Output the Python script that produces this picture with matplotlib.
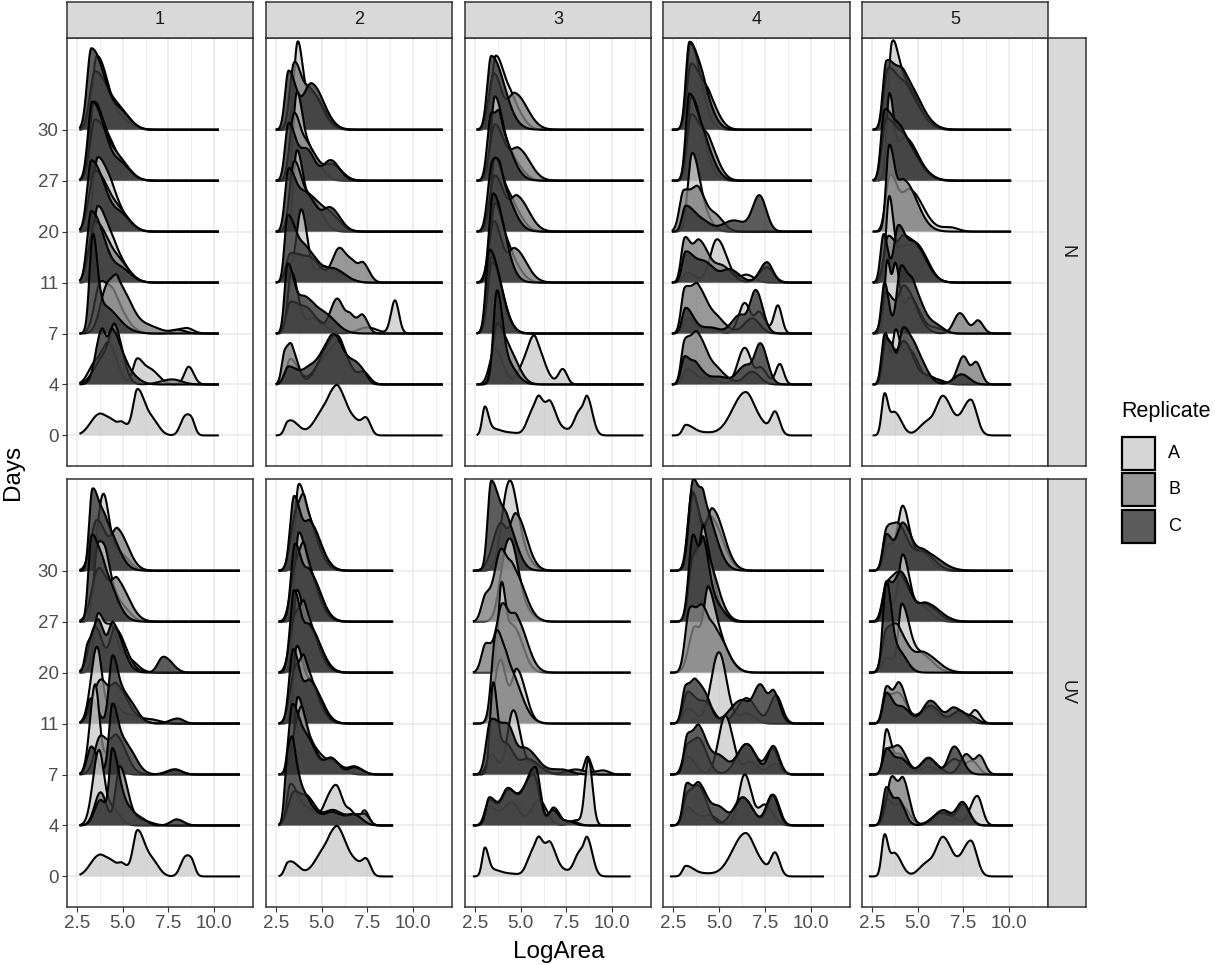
import matplotlib
matplotlib.use("Agg")
import matplotlib.pyplot as plt
from matplotlib.patches import Rectangle
import numpy as np

plt.rcParams["font.family"] = ["Liberation Sans", "DejaVu Sans"]

DAYS = [0, 4, 7, 11, 20, 27, 30]
GROUPS = [1, 2, 3, 4, 5]
TREATMENTS = ["N", "UV"]
REPLICATES = ["A", "B", "C"]
FILLS = {"A": "#cccccc", "B": "#7f7f7f", "C": "#333333"}
X_TICKS = [2.5, 5.0, 7.5, 10.0]
BANDWIDTH = 0.12

# LogArea range covered by each panel (N row, UV row)
RANGE_N = [(2.65, 10.25), (2.5, 11.6), (2.6, 11.7), (2.45, 10.05), (2.55, 10.1)]
RANGE_UV = [(2.65, 11.4), (2.65, 8.9), (2.4, 11.0), (2.35, 10.7), (2.35, 10.2)]

# density bumps: (centre, height, left spread, right spread)
DAY0 = [
    [(3.7, 0.4, 0.45, 0.35), (4.4, 0.25, 0.3, 0.3), (5.0, 0.22, 0.2, 0.3), (5.8, 0.85, 0.2, 0.35),
     (6.6, 0.3, 0.4, 0.35), (8.35, 0.3, 0.2, 0.2), (8.75, 0.3, 0.2, 0.15)],
    [(3.15, 0.22, 0.12, 0.3), (3.6, 0.15, 0.3, 0.3), (5.35, 0.6, 0.6, 0.3), (5.95, 0.85, 0.3, 0.45),
     (6.9, 0.2, 0.3, 0.3), (7.45, 0.3, 0.2, 0.2)],
    [(3.05, 0.52, 0.08, 0.15), (3.5, 0.12, 0.3, 0.4), (4.5, 0.05, 0.5, 0.5), (5.6, 0.4, 0.25, 0.3),
     (6.05, 0.6, 0.2, 0.3), (6.65, 0.55, 0.2, 0.3), (7.4, 0.1, 0.3, 0.3), (8.2, 0.45, 0.25, 0.2),
     (8.65, 0.7, 0.15, 0.25)],
    [(3.2, 0.2, 0.12, 0.4), (4.2, 0.05, 0.5, 0.5), (6.45, 0.85, 0.7, 0.5), (7.4, 0.12, 0.3, 0.3),
     (8.05, 0.45, 0.2, 0.22)],
    [(3.2, 0.8, 0.1, 0.15), (3.75, 0.45, 0.2, 0.35), (5.5, 0.25, 0.4, 0.4), (6.4, 0.75, 0.35, 0.45),
     (7.9, 0.7, 0.45, 0.3)],
]

N1 = {
    30: ([(3.6, 1.45, 0.22, 0.6), (5.0, 0.15, 0.4, 0.5)], [(3.5, 1.15, 0.25, 0.8), (5.0, 0.2, 0.4, 0.5)],
         [(3.3, 1.6, 0.2, 0.75), (5.0, 0.25, 0.4, 0.5)]),
    27: ([(3.45, 1.55, 0.2, 0.6), (4.5, 0.3, 0.3, 0.5), (5.1, 0.12, 0.4, 0.5)],
         [(3.5, 1.2, 0.25, 0.8), (5.0, 0.2, 0.4, 0.5)], [(3.35, 1.55, 0.2, 0.7), (5.0, 0.25, 0.4, 0.5)]),
    20: ([(3.65, 1.45, 0.22, 0.6), (4.5, 0.3, 0.3, 0.5), (5.1, 0.12, 0.4, 0.5)],
         [(3.5, 1.2, 0.3, 0.8), (5.0, 0.2, 0.4, 0.5)], [(3.3, 1.4, 0.2, 0.75), (5.0, 0.25, 0.4, 0.5)]),
    11: ([(3.65, 1.5, 0.22, 0.6), (4.6, 0.3, 0.3, 0.5), (5.2, 0.12, 0.4, 0.5)],
         [(3.5, 1.2, 0.3, 0.8), (5.0, 0.2, 0.4, 0.5)], [(3.3, 1.4, 0.2, 0.7), (5.0, 0.22, 0.4, 0.5)]),
    7: ([(3.8, 1.0, 0.3, 0.5), (4.6, 0.5, 0.3, 0.6), (8.1, 0.08, 0.3, 0.3), (8.6, 0.08, 0.2, 0.3)],
        [(4.15, 0.9, 0.35, 0.3), (4.75, 0.95, 0.25, 0.7), (6.5, 0.12, 0.5, 0.6), (8.0, 0.07, 0.3, 0.4)],
        [(3.37, 1.75, 0.13, 0.2), (3.9, 0.55, 0.35, 0.8)]),
    4: ([(3.5, 0.4, 0.35, 0.5), (4.3, 0.7, 0.35, 0.4), (5.8, 0.5, 0.2, 0.35), (6.6, 0.25, 0.3, 0.4),
         (8.6, 0.35, 0.2, 0.25)],
        [(4.0, 0.55, 0.5, 0.5), (4.6, 0.9, 0.25, 0.4), (7.7, 0.1, 0.6, 0.5)],
        [(3.86, 1.05, 0.3, 0.2), (4.45, 1.05, 0.2, 0.45), (5.3, 0.2, 0.3, 0.5)]),
}

N2 = {
    30: ([(3.7, 1.7, 0.17, 0.25), (4.5, 0.7, 0.3, 0.6)], [(3.5, 1.25, 0.2, 0.35), (4.4, 0.75, 0.4, 0.6)],
         [(3.2, 1.15, 0.15, 0.4), (4.45, 0.9, 0.4, 0.65)]),
    27: ([(3.65, 1.7, 0.15, 0.3), (4.4, 0.55, 0.3, 0.5)],
         [(3.5, 1.3, 0.2, 0.35), (4.3, 0.6, 0.3, 0.5), (5.6, 0.3, 0.4, 0.5)],
         [(3.2, 1.1, 0.15, 0.35), (4.2, 0.6, 0.4, 0.4), (5.5, 0.4, 0.4, 0.45)]),
    20: ([(3.65, 1.55, 0.15, 0.3), (4.5, 0.6, 0.35, 0.5)],
         [(3.5, 1.35, 0.2, 0.4), (4.5, 0.6, 0.4, 0.5), (5.5, 0.3, 0.4, 0.5)],
         [(3.2, 1.2, 0.15, 0.4), (4.2, 0.7, 0.4, 0.5), (5.5, 0.45, 0.4, 0.5)]),
    11: ([(3.2, 0.3, 0.2, 0.3), (3.9, 1.4, 0.22, 0.3), (5.1, 0.3, 0.4, 0.4), (6.0, 0.15, 0.4, 0.5)],
         [(3.3, 0.55, 0.2, 0.6), (4.5, 0.4, 0.5, 0.5), (5.95, 0.65, 0.35, 0.35), (6.7, 0.35, 0.3, 0.3),
          (7.3, 0.33, 0.2, 0.3)],
         [(3.15, 1.3, 0.12, 0.45), (4.2, 0.6, 0.4, 0.6), (5.7, 0.25, 0.5, 0.6)]),
    7: ([(3.35, 1.2, 0.15, 0.35), (4.6, 0.3, 0.4, 0.5), (7.5, 0.12, 0.5, 0.5), (9.0, 0.65, 0.18, 0.18)],
        [(3.3, 0.6, 0.2, 0.5), (4.3, 0.4, 0.4, 0.5), (5.85, 0.68, 0.35, 0.35), (6.6, 0.3, 0.2, 0.3),
         (7.25, 0.33, 0.2, 0.25)],
        [(3.15, 1.35, 0.12, 0.35), (4.1, 0.65, 0.35, 0.5), (5.2, 0.35, 0.5, 0.6)]),
    4: ([(3.3, 0.5, 0.2, 0.4), (5.3, 0.55, 0.6, 0.4), (6.0, 0.7, 0.3, 0.5), (7.3, 0.2, 0.3, 0.3)],
        [(3.0, 0.62, 0.12, 0.2), (3.4, 0.62, 0.15, 0.3), (5.5, 0.8, 0.6, 0.4), (6.1, 0.55, 0.3, 0.5),
         (7.3, 0.22, 0.25, 0.3)],
        [(3.2, 0.35, 0.2, 0.5), (4.4, 0.3, 0.4, 0.5), (5.4, 0.7, 0.45, 0.3), (5.95, 0.7, 0.3, 0.5),
         (6.9, 0.3, 0.3, 0.3), (7.35, 0.12, 0.2, 0.2)]),
}

N3 = {
    30: ([(3.65, 1.45, 0.2, 0.5), (4.6, 0.4, 0.3, 0.5)], [(3.55, 1.1, 0.25, 0.4), (4.7, 0.7, 0.35, 0.65)],
         [(3.4, 1.45, 0.18, 0.7)]),
    27: ([(3.6, 1.65, 0.17, 0.45), (4.6, 0.35, 0.3, 0.5)], [(3.6, 1.1, 0.25, 0.5), (4.9, 0.6, 0.4, 0.6)],
         [(3.4, 1.3, 0.17, 0.3), (3.9, 0.9, 0.15, 0.6)]),
    20: ([(3.6, 1.45, 0.17, 0.5), (4.6, 0.4, 0.3, 0.5)], [(3.6, 1.1, 0.25, 0.5), (4.85, 0.65, 0.35, 0.6)],
         [(3.45, 1.3, 0.2, 0.3), (3.95, 0.85, 0.2, 0.6)]),
    11: ([(3.6, 1.55, 0.2, 0.45), (4.5, 0.4, 0.3, 0.5)], [(3.55, 1.2, 0.25, 0.4), (4.7, 0.65, 0.35, 0.6)],
         [(3.5, 1.75, 0.18, 0.6)]),
    7: ([(3.4, 1.5, 0.2, 0.5)], [(3.45, 1.4, 0.2, 0.55)], [(3.3, 1.65, 0.15, 0.6)]),
    4: ([(3.6, 0.7, 0.25, 0.4), (5.4, 0.55, 0.4, 0.3), (5.85, 0.7, 0.25, 0.45), (7.3, 0.3, 0.2, 0.2)],
        [(3.7, 1.1, 0.2, 0.3), (4.35, 0.65, 0.3, 0.5)],
        [(3.7, 1.7, 0.15, 0.25), (4.2, 0.45, 0.3, 0.5)]),
}

N4 = {
    30: ([(3.45, 1.7, 0.15, 0.55)], [(3.5, 1.3, 0.2, 0.6), (4.5, 0.4, 0.3, 0.5)],
         [(3.4, 1.7, 0.15, 0.5), (4.2, 0.5, 0.3, 0.5)]),
    27: ([(3.5, 1.65, 0.15, 0.6)], [(3.5, 1.3, 0.2, 0.6), (4.5, 0.5, 0.3, 0.5)],
         [(3.4, 1.7, 0.15, 0.5), (4.3, 0.5, 0.3, 0.5)]),
    20: ([(3.55, 1.5, 0.2, 0.35), (4.2, 0.3, 0.3, 0.4)],
         [(3.1, 0.8, 0.2, 0.5), (3.95, 0.65, 0.3, 0.45), (4.9, 0.25, 0.3, 0.4)],
         [(3.2, 0.5, 0.15, 0.5), (4.2, 0.15, 0.4, 0.4), (5.8, 0.22, 0.6, 0.6), (7.2, 0.7, 0.35, 0.35)]),
    11: ([(3.3, 0.2, 0.2, 0.4), (4.9, 0.85, 0.35, 0.5), (6.5, 0.15, 0.3, 0.4)],
         [(3.15, 0.85, 0.15, 0.3), (3.95, 0.8, 0.3, 0.5), (5.2, 0.3, 0.4, 0.5), (7.6, 0.3, 0.4, 0.35)],
         [(3.2, 0.6, 0.15, 0.5), (4.3, 0.35, 0.4, 0.5), (5.6, 0.25, 0.4, 0.5), (7.6, 0.4, 0.35, 0.3)]),
    7: ([(3.3, 0.3, 0.2, 0.4), (4.5, 0.1, 0.4, 0.4), (6.4, 0.6, 0.3, 0.3), (7.2, 0.4, 0.2, 0.3),
         (8.2, 0.55, 0.18, 0.18)],
        [(3.15, 0.85, 0.15, 0.35), (3.9, 0.85, 0.3, 0.55), (5.0, 0.2, 0.3, 0.5), (6.8, 0.3, 0.4, 0.4)],
        [(3.2, 0.5, 0.15, 0.4), (4.5, 0.12, 0.5, 0.5), (6.1, 0.35, 0.4, 0.3), (7.0, 0.85, 0.3, 0.35)]),
    4: ([(3.3, 0.3, 0.2, 0.4), (4.5, 0.12, 0.4, 0.4), (6.4, 0.72, 0.35, 0.35), (7.3, 0.3, 0.2, 0.3),
         (8.3, 0.4, 0.18, 0.18)],
        [(3.15, 0.8, 0.15, 0.3), (3.85, 0.95, 0.3, 0.55), (5.0, 0.2, 0.3, 0.5), (6.8, 0.25, 0.4, 0.4)],
        [(3.15, 0.55, 0.15, 0.35), (3.8, 0.3, 0.2, 0.4), (5.0, 0.15, 0.5, 0.5), (6.4, 0.35, 0.4, 0.3),
         (7.25, 0.8, 0.3, 0.35)]),
}

N5 = {
    30: ([(3.6, 1.5, 0.12, 0.3), (4.3, 0.9, 0.4, 0.7)], [(3.4, 1.2, 0.2, 0.6), (4.5, 0.6, 0.4, 0.7)],
         [(3.3, 1.3, 0.15, 0.5), (4.3, 0.95, 0.4, 0.8)]),
    27: ([(3.46, 1.6, 0.1, 0.2), (4.3, 0.85, 0.4, 0.7)], [(3.3, 1.2, 0.2, 0.6), (4.4, 0.6, 0.4, 0.7)],
         [(3.2, 1.35, 0.15, 0.5), (4.2, 0.8, 0.4, 0.8)]),
    20: ([(3.5, 1.1, 0.2, 0.4), (4.6, 0.8, 0.4, 0.7), (6.8, 0.08, 0.5, 0.4)],
         [(3.45, 1.6, 0.12, 0.25), (4.25, 1.0, 0.35, 0.7)], None),
    11: ([(3.45, 1.65, 0.12, 0.2), (4.2, 0.7, 0.3, 0.5), (5.0, 0.5, 0.3, 0.6)],
         [(3.4, 0.9, 0.2, 0.4), (4.3, 0.8, 0.3, 0.5), (5.2, 0.5, 0.4, 0.5)],
         [(3.15, 0.95, 0.12, 0.2), (3.95, 1.1, 0.2, 0.4), (4.9, 0.7, 0.35, 0.6)]),
    7: ([(3.35, 1.4, 0.1, 0.13), (3.8, 1.3, 0.12, 0.2), (4.6, 0.7, 0.3, 0.5), (6.0, 0.1, 0.4, 0.4)],
        [(3.3, 0.8, 0.2, 0.4), (4.3, 0.9, 0.3, 0.6), (7.3, 0.4, 0.3, 0.35), (8.3, 0.25, 0.2, 0.25)],
        [(3.2, 1.0, 0.12, 0.2), (4.1, 1.3, 0.2, 0.35), (4.8, 0.8, 0.25, 0.5), (6.0, 0.15, 0.4, 0.4)]),
    4: ([(3.25, 1.0, 0.1, 0.15), (3.8, 1.0, 0.12, 0.2), (4.5, 0.7, 0.3, 0.5), (6.0, 0.1, 0.4, 0.4)],
        [(3.3, 0.9, 0.15, 0.4), (4.3, 0.8, 0.3, 0.5), (5.6, 0.15, 0.3, 0.5), (7.5, 0.55, 0.3, 0.25),
         (8.2, 0.42, 0.2, 0.25)],
        [(3.2, 0.95, 0.12, 0.15), (3.6, 0.65, 0.12, 0.15), (4.2, 1.05, 0.2, 0.35), (4.9, 0.6, 0.3, 0.5),
         (7.4, 0.2, 0.4, 0.4)]),
}

UV1 = {
    30: ([(3.95, 1.5, 0.28, 0.3), (4.8, 0.35, 0.3, 0.5)],
         [(3.6, 1.0, 0.3, 0.5), (4.75, 0.75, 0.3, 0.55)],
         [(3.35, 1.55, 0.12, 0.35), (4.1, 0.85, 0.3, 0.6)]),
    27: ([(3.65, 1.45, 0.18, 0.3), (4.15, 0.85, 0.2, 0.3), (4.8, 0.35, 0.3, 0.5)],
         [(3.7, 1.05, 0.35, 0.5), (4.75, 0.72, 0.3, 0.6)],
         [(3.3, 1.6, 0.12, 0.35), (4.0, 0.9, 0.3, 0.6)]),
    20: ([(3.65, 1.1, 0.2, 0.3), (4.4, 0.85, 0.3, 0.3), (5.2, 0.3, 0.3, 0.5)],
         [(3.5, 0.9, 0.3, 0.4), (4.6, 0.85, 0.25, 0.55)],
         [(3.1, 0.5, 0.1, 0.3), (3.7, 0.95, 0.25, 0.35), (4.5, 0.9, 0.2, 0.5), (7.2, 0.3, 0.25, 0.3),
          (7.7, 0.1, 0.2, 0.3)]),
    11: ([(3.6, 1.5, 0.3, 0.25), (4.5, 0.4, 0.3, 0.4), (5.5, 0.15, 0.3, 0.5)],
         [(3.8, 0.85, 0.4, 0.4), (4.7, 0.7, 0.3, 0.6), (6.5, 0.08, 0.5, 0.5)],
         [(3.3, 0.5, 0.2, 0.3), (4.45, 1.3, 0.15, 0.3), (5.2, 0.5, 0.3, 0.5), (8.0, 0.1, 0.4, 0.3)]),
    7: ([(3.5, 1.75, 0.25, 0.2), (4.3, 0.45, 0.3, 0.4)],
        [(3.8, 0.75, 0.3, 0.4), (4.7, 0.7, 0.3, 0.5), (7.8, 0.1, 0.4, 0.4)],
        [(3.3, 0.55, 0.2, 0.3), (4.45, 1.35, 0.15, 0.3), (5.2, 0.55, 0.3, 0.5), (7.9, 0.1, 0.4, 0.3)]),
    4: ([(3.7, 1.45, 0.3, 0.25), (4.4, 0.35, 0.3, 0.4)],
        [(3.8, 0.65, 0.3, 0.3), (4.85, 1.15, 0.2, 0.4), (6.0, 0.1, 0.4, 0.5)],
        [(3.8, 0.5, 0.3, 0.3), (4.45, 1.4, 0.12, 0.3), (5.1, 0.4, 0.3, 0.5), (6.1, 0.08, 0.3, 0.3),
         (7.95, 0.12, 0.3, 0.35)]),
}

UV2 = {
    30: ([(3.75, 1.65, 0.15, 0.35), (4.5, 0.7, 0.3, 0.55)], [(3.6, 1.1, 0.25, 0.3), (4.1, 1.1, 0.2, 0.6)],
         [(3.5, 1.45, 0.18, 0.35), (4.4, 0.9, 0.3, 0.55)]),
    27: ([(3.75, 1.7, 0.15, 0.35), (4.5, 0.7, 0.3, 0.55)], [(3.6, 1.1, 0.25, 0.3), (4.1, 1.15, 0.2, 0.6)],
         [(3.55, 1.5, 0.18, 0.35), (4.4, 0.9, 0.3, 0.55)]),
    20: ([(3.65, 1.6, 0.15, 0.35), (4.5, 0.7, 0.3, 0.55)], [(3.55, 1.1, 0.25, 0.3), (4.1, 1.1, 0.2, 0.6)],
         [(3.5, 1.6, 0.18, 0.35), (4.4, 0.85, 0.3, 0.55)]),
    11: ([(3.65, 1.5, 0.15, 0.35), (4.5, 0.7, 0.3, 0.55)], [(3.55, 1.05, 0.25, 0.3), (4.1, 1.05, 0.2, 0.6)],
         [(3.45, 1.45, 0.18, 0.35), (4.4, 0.8, 0.3, 0.55)]),
    7: ([(3.7, 1.5, 0.15, 0.35), (4.5, 0.5, 0.3, 0.5), (5.6, 0.2, 0.4, 0.5)],
        [(3.6, 0.8, 0.25, 0.3), (4.0, 0.9, 0.2, 0.5), (5.5, 0.3, 0.4, 0.5), (6.8, 0.15, 0.3, 0.4)],
        [(3.4, 1.35, 0.15, 0.4), (4.3, 0.6, 0.35, 0.5), (5.55, 0.3, 0.3, 0.4), (6.8, 0.14, 0.3, 0.4)]),
    4: ([(3.3, 0.8, 0.15, 0.4), (4.3, 0.3, 0.4, 0.4), (5.4, 0.5, 0.3, 0.3), (5.9, 0.6, 0.25, 0.3),
         (6.6, 0.25, 0.2, 0.3), (7.35, 0.28, 0.15, 0.2)],
        [(3.5, 0.65, 0.3, 0.4), (4.3, 0.45, 0.3, 0.4), (5.6, 0.3, 0.5, 0.5), (6.8, 0.2, 0.4, 0.4),
         (7.4, 0.15, 0.2, 0.2)],
        [(3.15, 1.3, 0.1, 0.25), (3.5, 1.0, 0.15, 0.4), (4.3, 0.35, 0.3, 0.5), (5.6, 0.25, 0.4, 0.5),
         (6.8, 0.2, 0.4, 0.4)]),
}

UV3 = {
    30: ([(4.2, 1.15, 0.3, 0.3), (4.65, 1.1, 0.3, 0.35), (5.3, 0.2, 0.3, 0.4)],
         [(3.9, 0.9, 0.4, 0.3), (4.75, 1.1, 0.3, 0.55)],
         [(3.4, 1.75, 0.15, 0.45), (4.3, 0.8, 0.3, 0.5)]),
    27: ([(4.15, 1.1, 0.3, 0.3), (4.65, 1.1, 0.3, 0.35), (5.4, 0.15, 0.3, 0.4)],
         [(3.1, 0.5, 0.2, 0.3), (3.9, 1.3, 0.3, 0.3), (4.6, 1.0, 0.3, 0.6)], None),
    20: ([(3.95, 1.65, 0.12, 0.2), (4.6, 0.9, 0.3, 0.5)],
         [(3.1, 0.55, 0.2, 0.3), (4.0, 1.3, 0.3, 0.35), (4.8, 1.0, 0.3, 0.55)], None),
    11: ([(3.9, 1.25, 0.3, 0.3), (4.8, 1.05, 0.25, 0.45)],
         [(3.65, 1.65, 0.2, 0.3), (4.3, 1.1, 0.3, 0.65)], None),
    7: ([(3.4, 0.4, 0.2, 0.3), (4.6, 1.25, 0.3, 0.35), (5.6, 0.2, 0.4, 0.5), (8.65, 0.35, 0.12, 0.15)],
        [(3.5, 1.75, 0.12, 0.2), (4.2, 0.6, 0.3, 0.4), (5.4, 0.3, 0.4, 0.6), (8.0, 0.1, 0.5, 0.5),
         (9.5, 0.08, 0.4, 0.3)],
        [(3.35, 0.95, 0.2, 0.4), (4.3, 0.9, 0.45, 0.35), (5.3, 0.5, 0.4, 0.6), (7.2, 0.1, 0.6, 0.5)]),
    4: ([(3.3, 0.35, 0.2, 0.4), (4.5, 0.45, 0.4, 0.4), (6.0, 0.5, 0.4, 0.4), (8.0, 0.1, 0.3, 0.3),
         (8.7, 1.3, 0.15, 0.18)],
        [(3.3, 0.5, 0.2, 0.4), (4.3, 0.6, 0.3, 0.4), (5.7, 1.0, 0.6, 0.3), (6.8, 0.35, 0.2, 0.3),
         (7.8, 0.08, 0.3, 0.3)],
        [(3.3, 0.55, 0.15, 0.4), (4.3, 0.65, 0.3, 0.4), (5.8, 1.15, 0.6, 0.25), (6.75, 0.3, 0.2, 0.3),
         (7.6, 0.08, 0.3, 0.3)]),
}

UV4 = {
    30: ([(3.55, 1.55, 0.2, 0.4), (4.6, 1.0, 0.3, 0.6)], [(3.6, 1.5, 0.2, 0.35), (4.65, 1.2, 0.3, 0.6)],
         [(3.6, 1.75, 0.2, 0.3), (4.2, 1.2, 0.2, 0.6)]),
    27: ([(3.6, 1.3, 0.2, 0.4), (4.2, 1.4, 0.15, 0.5)], [(3.6, 1.2, 0.2, 0.4), (4.3, 1.2, 0.3, 0.6)],
         [(3.6, 1.7, 0.2, 0.3), (4.2, 1.3, 0.15, 0.3), (4.9, 0.3, 0.3, 0.4)]),
    20: ([(3.7, 0.9, 0.3, 0.4), (4.45, 1.5, 0.2, 0.45), (5.3, 0.3, 0.3, 0.5)],
         [(3.4, 1.15, 0.2, 0.3), (4.1, 1.15, 0.3, 0.3), (4.8, 0.8, 0.3, 0.6)], None),
    11: ([(3.3, 0.3, 0.2, 0.4), (5.0, 1.4, 0.4, 0.4), (6.5, 0.2, 0.4, 0.4)],
         [(3.3, 0.6, 0.2, 0.4), (4.3, 0.4, 0.4, 0.4), (6.5, 0.5, 0.5, 0.5), (8.1, 0.55, 0.3, 0.3)],
         [(3.2, 0.72, 0.15, 0.3), (3.75, 0.6, 0.2, 0.3), (4.3, 0.45, 0.3, 0.3), (6.2, 0.45, 0.6, 0.4),
          (7.25, 0.75, 0.35, 0.35), (8.0, 0.55, 0.2, 0.3)]),
    7: ([(3.3, 0.35, 0.2, 0.4), (5.35, 1.15, 0.35, 0.4), (6.7, 0.25, 0.3, 0.4), (8.0, 0.2, 0.3, 0.3)],
        [(3.3, 0.55, 0.2, 0.4), (4.0, 0.55, 0.3, 0.4), (6.5, 0.6, 0.5, 0.5), (7.9, 0.5, 0.3, 0.3)],
        [(3.3, 0.75, 0.15, 0.3), (3.95, 0.85, 0.25, 0.4), (5.0, 0.35, 0.4, 0.4), (6.5, 0.6, 0.5, 0.5),
         (7.95, 0.55, 0.25, 0.3)]),
    4: ([(3.3, 0.35, 0.2, 0.4), (4.5, 0.2, 0.4, 0.4), (6.4, 1.0, 0.3, 0.35), (7.5, 0.4, 0.3, 0.4)],
        [(3.3, 0.6, 0.2, 0.4), (4.0, 0.6, 0.3, 0.4), (6.3, 0.55, 0.5, 0.5), (7.95, 0.6, 0.3, 0.3)],
        [(3.25, 0.8, 0.15, 0.3), (3.95, 0.75, 0.25, 0.4), (5.0, 0.35, 0.4, 0.4), (6.3, 0.55, 0.4, 0.5),
         (7.9, 0.6, 0.3, 0.3)]),
}

UV5 = {
    30: ([(3.4, 0.5, 0.2, 0.3), (4.2, 1.25, 0.25, 0.35), (5.2, 0.35, 0.3, 0.5)],
         [(3.3, 0.7, 0.15, 0.3), (4.0, 0.85, 0.35, 0.5), (5.3, 0.35, 0.4, 0.6)],
         [(3.3, 0.7, 0.15, 0.3), (4.2, 0.93, 0.3, 0.5), (5.4, 0.35, 0.35, 0.8)]),
    27: ([(3.4, 0.4, 0.2, 0.3), (4.2, 1.3, 0.2, 0.35), (5.2, 0.3, 0.3, 0.5)],
         [(3.3, 0.6, 0.2, 0.3), (4.0, 0.9, 0.35, 0.6), (5.5, 0.3, 0.4, 0.6)],
         [(3.3, 0.75, 0.15, 0.3), (4.1, 0.95, 0.3, 0.5), (5.5, 0.35, 0.4, 0.7)]),
    20: ([(3.3, 0.3, 0.2, 0.4), (4.15, 1.3, 0.15, 0.4), (5.2, 0.35, 0.4, 0.6)],
         [(3.3, 0.8, 0.2, 0.4), (4.0, 0.7, 0.3, 0.6), (5.4, 0.35, 0.4, 0.7)],
         [(3.3, 1.75, 0.15, 0.25), (4.0, 0.4, 0.3, 0.4)]),
    11: ([(3.3, 0.5, 0.15, 0.3), (4.0, 0.55, 0.3, 0.4), (5.6, 0.3, 0.5, 0.5), (7.2, 0.2, 0.4, 0.4),
          (8.15, 0.25, 0.2, 0.25)],
         [(3.3, 0.7, 0.15, 0.25), (4.0, 0.78, 0.25, 0.35), (5.7, 0.35, 0.5, 0.5), (7.3, 0.25, 0.4, 0.4)],
         [(3.3, 0.6, 0.15, 0.35), (4.2, 0.3, 0.3, 0.4), (5.7, 0.45, 0.4, 0.5), (7.0, 0.3, 0.3, 0.5),
          (8.0, 0.1, 0.3, 0.3)]),
    7: ([(3.3, 0.85, 0.1, 0.2), (4.0, 0.4, 0.3, 0.4), (5.6, 0.15, 0.4, 0.4), (7.0, 0.3, 0.4, 0.4),
         (8.0, 0.25, 0.3, 0.3)],
        [(3.3, 0.45, 0.15, 0.3), (4.0, 0.52, 0.3, 0.4), (5.6, 0.3, 0.4, 0.5), (7.65, 0.4, 0.3, 0.3),
         (8.4, 0.35, 0.2, 0.25)],
        [(3.3, 0.5, 0.15, 0.3), (4.1, 0.3, 0.3, 0.4), (5.6, 0.33, 0.4, 0.4), (7.0, 0.55, 0.3, 0.4)]),
    4: ([(3.3, 0.5, 0.15, 0.3), (4.1, 0.4, 0.3, 0.4), (6.5, 0.25, 0.5, 0.5), (8.25, 0.58, 0.35, 0.25)],
        [(3.6, 0.95, 0.25, 0.3), (4.25, 0.8, 0.2, 0.3), (6.3, 0.25, 0.5, 0.5), (7.5, 0.4, 0.3, 0.3)],
        [(3.3, 0.75, 0.15, 0.3), (4.0, 0.45, 0.2, 0.3), (6.4, 0.3, 0.5, 0.4), (7.45, 0.45, 0.3, 0.35)]),
}

PANELS = {"N": [N1, N2, N3, N4, N5], "UV": [UV1, UV2, UV3, UV4, UV5]}
RANGES = {"N": RANGE_N, "UV": RANGE_UV}


def ridge(x, peaks):
    y = np.zeros_like(x)
    for mu, h, sl, sr in peaks:
        sd = np.sqrt(np.where(x < mu, sl, sr) ** 2 + BANDWIDTH ** 2)
        y += h * np.exp(-0.5 * ((x - mu) / sd) ** 2)
    return y


W, H = 1215, 965


def box(x0, y0, x1, y1):
    return [x0 / W, 1 - y1 / H, (x1 - x0) / W, (y1 - y0) / H]


COL_X = [(67, 253), (266, 452), (465, 651), (663, 850), (862, 1048)]
ROW_Y = [(38, 466), (479, 907)]
BORDER = "#333333"

fig = plt.figure(figsize=(W / 100, H / 100), dpi=100)

for r, treat in enumerate(TREATMENTS):
    for c, grp in enumerate(GROUPS):
        ax = fig.add_axes(box(COL_X[c][0], ROW_Y[r][0], COL_X[c][1], ROW_Y[r][1]))
        ax.set_xlim(1.97, 12.11)
        ax.set_ylim(-0.6, 7.8)
        ax.set_xticks(X_TICKS)
        ax.set_xticks([3.75, 6.25, 8.75, 11.25], minor=True)
        ax.set_yticks(range(len(DAYS)))
        ax.set_axisbelow(True)
        ax.grid(which="major", color="#ebebeb", lw=1.2)
        ax.grid(which="minor", axis="x", color="#ebebeb", lw=0.6)
        for s in ax.spines.values():
            s.set_color(BORDER)
            s.set_linewidth(1.1)
        ax.tick_params(which="minor", length=0)
        ax.tick_params(which="major", length=3.5, width=0.8, color=BORDER,
                       labelsize=13.5, labelcolor="#4d4d4d", pad=2.5)
        if c == 0:
            ax.set_yticklabels([str(d) for d in DAYS])
        else:
            ax.tick_params(axis="y", length=0, labelleft=False)
        if r == 1:
            ax.set_xticklabels(["2.5", "5.0", "7.5", "10.0"])
        else:
            ax.tick_params(axis="x", length=0, labelbottom=False)

        x0, x1 = RANGES[treat][c]
        x = np.linspace(x0, x1, 900)
        data = PANELS[treat][c]
        z = 2
        for day in DAYS[::-1]:
            base = DAYS.index(day)
            if day == 0:
                sets = (DAY0[c], None, None)
            else:
                sets = data[day]
            for rep, peaks in zip(REPLICATES, sets):
                if peaks is None:
                    continue
                y = base + ridge(x, peaks)
                ax.fill_between(x, base, y, facecolor=FILLS[rep], alpha=0.8, lw=0, zorder=z)
                ax.plot(x, y, color="black", lw=1.5, zorder=z + 0.5, solid_capstyle="butt")
                z += 1

        if r == 0:
            sax = fig.add_axes(box(COL_X[c][0], 2, COL_X[c][1], 38))
            sax.set_facecolor("#d9d9d9")
            sax.set_xticks([])
            sax.set_yticks([])
            for s in sax.spines.values():
                s.set_color(BORDER)
                s.set_linewidth(1.1)
            sax.text(0.5, 0.5, str(grp), ha="center", va="center", fontsize=13,
                     color="#1a1a1a", transform=sax.transAxes)

    rax = fig.add_axes(box(1048, ROW_Y[r][0], 1086, ROW_Y[r][1]))
    rax.set_facecolor("#d9d9d9")
    rax.set_xticks([])
    rax.set_yticks([])
    for s in rax.spines.values():
        s.set_color(BORDER)
        s.set_linewidth(1.1)
    rax.text(0.5, 0.5, treat, ha="center", va="center", rotation=-90, fontsize=13,
             color="#1a1a1a", transform=rax.transAxes)

fig.text(559 / W, 1 - 952 / H, "LogArea", ha="center", va="center", fontsize=17.5)
fig.text(13 / W, 1 - 472 / H, "Days", ha="center", va="center", rotation=90, fontsize=17.5)

# legend
fig.text(1121 / W, 1 - 412 / H, "Replicate", ha="left", va="center", fontsize=15.5)
key_top = [437, 473, 510]
for rep, top in zip(REPLICATES, key_top):
    fig.patches.append(Rectangle((1122 / W, 1 - (top + 33) / H), 33 / W, 33 / H,
                                 transform=fig.transFigure, facecolor="white",
                                 edgecolor="none", zorder=1))
    fig.patches.append(Rectangle((1122 / W, 1 - (top + 33) / H), 33 / W, 33 / H,
                                 transform=fig.transFigure, facecolor=FILLS[rep], alpha=0.8,
                                 edgecolor="none", zorder=2))
    fig.patches.append(Rectangle((1122 / W, 1 - (top + 33) / H), 33 / W, 33 / H,
                                 transform=fig.transFigure, facecolor="none",
                                 edgecolor="black", lw=1.6, zorder=3))
    fig.text(1168 / W, 1 - (top + 16.5) / H, rep, ha="left", va="center", fontsize=13)

fig.savefig("out.png", dpi=100)
